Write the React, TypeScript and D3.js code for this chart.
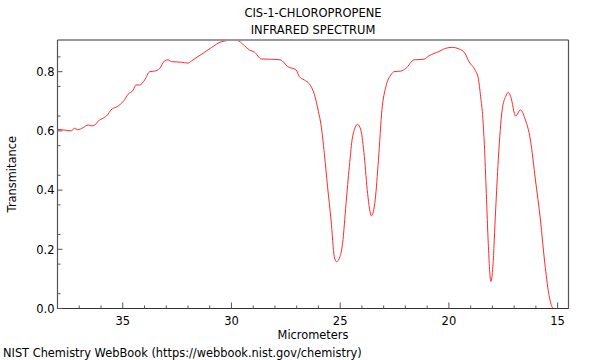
import React from "react";
import * as d3 from "d3";

const title1 = "CIS-1-CHLOROPROPENE";
const title2 = "INFRARED SPECTRUM";
const xLabel = "Micrometers";
const yLabel = "Transmitance";
const footer = "NIST Chemistry WebBook (https://webbook.nist.gov/chemistry)";

const xTicks = [35, 30, 25, 20, 15];
const yTicks = [0.0, 0.2, 0.4, 0.6, 0.8];

const micrometers = [
  38.0, 37.81, 37.35, 37.23, 37.07, 36.82, 36.59, 36.43, 36.28, 36.13, 35.9, 35.7, 35.55, 35.21, 34.98,
  34.75, 34.52, 34.4, 34.22, 33.99, 33.76, 33.53, 33.3, 33.07, 32.92, 32.76, 32.3, 32.0, 31.84, 31.54,
  31.23, 30.93, 30.47, 30.01, 29.71, 29.48, 29.17, 28.94, 28.63, 28.17, 27.75, 27.41, 27.03, 26.88,
  26.65, 26.42, 26.19, 26.0, 25.88, 25.73, 25.58, 25.42, 25.27, 25.17, 25.01, 24.89, 24.73, 24.58,
  24.43, 24.2, 24.05, 23.89, 23.74, 23.56, 23.39, 23.24, 23.08, 22.9, 22.67, 22.52, 22.21, 21.98,
  21.6, 21.14, 20.91, 20.46, 20.15, 19.84, 19.54, 19.26, 19.08, 18.79, 18.65, 18.54, 18.44, 18.37,
  18.28, 18.19, 18.07, 17.98, 17.85, 17.73, 17.55, 17.39, 17.27, 17.16, 16.93, 16.71, 16.51, 16.25,
  16.02, 15.79, 15.59, 15.41, 15.26, 15.18, 14.5,
];
const transmittance = [
  0.605, 0.604, 0.6, 0.609, 0.604, 0.611, 0.62, 0.617, 0.62, 0.633, 0.643, 0.654, 0.67, 0.684, 0.699,
  0.724, 0.738, 0.755, 0.755, 0.772, 0.8, 0.802, 0.811, 0.837, 0.84, 0.834, 0.832, 0.829, 0.836, 0.851,
  0.866, 0.881, 0.901, 0.906, 0.905, 0.893, 0.873, 0.866, 0.843, 0.842, 0.84, 0.817, 0.806, 0.783,
  0.772, 0.759, 0.724, 0.665, 0.62, 0.524, 0.411, 0.299, 0.175, 0.158, 0.175, 0.22, 0.355, 0.479,
  0.58, 0.622, 0.603, 0.513, 0.389, 0.313, 0.367, 0.502, 0.671, 0.749, 0.789, 0.8, 0.802, 0.811,
  0.84, 0.842, 0.854, 0.868, 0.879, 0.882, 0.877, 0.862, 0.834, 0.805, 0.778, 0.715, 0.643, 0.555,
  0.389, 0.22, 0.091, 0.141, 0.333, 0.502, 0.671, 0.716, 0.73, 0.716, 0.65, 0.671, 0.643, 0.569,
  0.434, 0.299, 0.153, 0.051, 0.006, 0.0, 0.0,
];

const W = 600;
const H = 360;
const left = 57.5;
const right = 568.5;
const top = 40;
const bottom = 308.5;
const FONT = "DejaVu Sans, sans-serif";

export default function App() {
  const x = d3.scaleLinear().domain([38, 14.5]).range([left, right]);
  const y = d3.scaleLinear().domain([0, 0.907]).range([bottom, top]);
  const pts = micrometers.map((m, i) => [m, transmittance[i]] as [number, number]);
  const line = d3
    .line<[number, number]>()
    .x((d) => x(d[0]))
    .y((d) => y(d[1]))
    .curve(d3.curveMonotoneX);

  const xMinor = d3.range(15, 38, 1).filter((v) => v % 5 !== 0);
  const yMinor = d3.range(0.05, 0.9, 0.1).map((v) => +v.toFixed(2));

  return (
    <svg width={W} height={H} style={{ position: "absolute", left: 0, top: 0, background: "#fff" }} fontFamily={FONT}>
      <rect x={0} y={0} width={W} height={H} fill="#fff" />
      <text x={(left + right) / 2} y={17} textAnchor="middle" fontSize={11.5} fill="#000">{title1}</text>
      <text x={(left + right) / 2} y={34} textAnchor="middle" fontSize={11.5} fill="#000">{title2}</text>

      {/* curve */}
      <path d={line(pts) || ""} fill="none" stroke="#ff2a2a" strokeWidth={1} />

      {/* frame */}
      <line x1={left} x2={right} y1={top} y2={top} stroke="#999" strokeWidth={2} />
      <line x1={left} x2={left} y1={top} y2={bottom} stroke="#555" strokeWidth={1.2} />
      <line x1={right} x2={right} y1={top} y2={bottom} stroke="#555" strokeWidth={1.2} />
      <line x1={left} x2={right} y1={bottom} y2={bottom} stroke="#333" strokeWidth={1.2} />

      {/* x ticks */}
      {xTicks.map((t) => (
        <g key={"xt" + t}>
          <line x1={x(t)} x2={x(t)} y1={bottom} y2={bottom - 6} stroke="#555" />
          <text x={x(t)} y={bottom + 16.5} textAnchor="middle" fontSize={11.5} fill="#000">{t}</text>
        </g>
      ))}
      {xMinor.map((t) => (
        <line key={"xm" + t} x1={x(t)} x2={x(t)} y1={bottom} y2={bottom - 3} stroke="#555" />
      ))}

      {/* y ticks */}
      {yTicks.map((t) => (
        <g key={"yt" + t}>
          <line x1={left} x2={left + 5} y1={y(t)} y2={y(t)} stroke="#555" />
          <text x={left - 3} y={y(t) + 4.3} textAnchor="end" fontSize={11.5} fill="#000">{t.toFixed(1)}</text>
        </g>
      ))}
      {yMinor.map((t) => (
        <line key={"ym" + t} x1={left} x2={left + 3} y1={y(t)} y2={y(t)} stroke="#555" />
      ))}

      <text x={(left + right) / 2} y={338.5} textAnchor="middle" fontSize={11.4} fill="#000">{xLabel}</text>
      <text transform={`translate(15.5, ${(top + bottom) / 2}) rotate(-90)`} textAnchor="middle" fontSize={11.4} fill="#000">{yLabel}</text>
      <text x={3} y={357} fontSize={11.4} fill="#000">{footer}</text>
    </svg>
  );
}
